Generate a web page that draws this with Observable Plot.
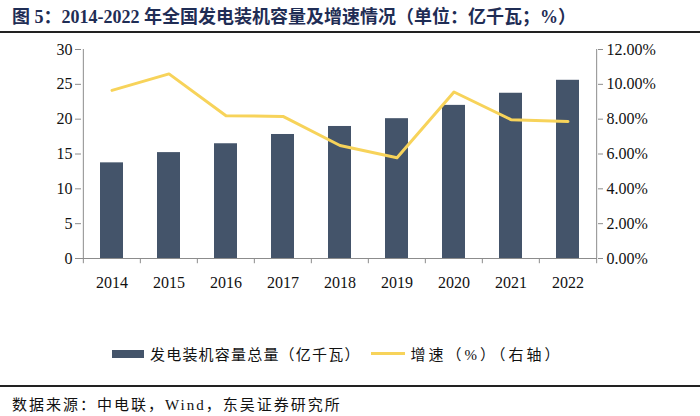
<!DOCTYPE html>
<html><head><meta charset="utf-8">
<script src="https://cdn.jsdelivr.net/npm/d3@7"></script>
<script src="https://cdn.jsdelivr.net/npm/@observablehq/plot@0.6"></script>
<style>
body{margin:0;width:700px;height:416px;position:relative;background:#fff;overflow:hidden;font-family:"Liberation Serif","Noto Sans CJK SC",serif;}
#title{position:absolute;left:0;top:0;width:700px;height:33px;border-bottom:2px solid #222;font-size:18px;font-weight:bold;color:#1f2d55;line-height:34px;padding-left:12px;box-sizing:border-box;white-space:nowrap;letter-spacing:0px;}
#chart{position:absolute;left:0;top:42px;}
#legend{position:absolute;left:112px;top:343px;font-size:15px;color:#111;display:flex;align-items:center;letter-spacing:1.2px;white-space:nowrap;}
#legend .sw{display:inline-block;}
#sep{position:absolute;left:0;top:385px;width:700px;border-top:2px solid #222;}
#source{position:absolute;left:12px;top:393px;font-size:15px;color:#111;letter-spacing:2px;white-space:nowrap;}
</style></head>
<body>
<div id="title">图 5：2014-2022 年全国发电装机容量及增速情况（单位：亿千瓦；%）</div>
<div id="chart"></div>
<div id="legend"></div>
<div id="sep"></div>
<div id="source">数据来源：中电联，Wind，东吴证券研究所</div>
<script>
const years = ["2014","2015","2016","2017","2018","2019","2020","2021","2022"];
const capacity = [13.73, 15.2, 16.47, 17.8, 18.95, 20.07, 21.98, 23.72, 25.58];
const growth = [9.65, 10.6, 8.2, 8.16, 6.49, 5.78, 9.56, 7.97, 7.87];
const leftTicks = [0, 5, 10, 15, 20, 25, 30];
const rightTicks = [0, 2, 4, 6, 8, 10, 12];
const seriesNames = ["发电装机容量总量（亿千瓦）", "增速（%）（右轴）"];

const barColor = "#44546a";
const lineColor = "#f7d35a";
const axisColor = "#8c8c8c";
const ratio = 30 / 12;

const W = 700, mL = 81, mR = 103;
const step = (W - mL - mR) / years.length;

const barData = years.map((y, i) => ({year: y, value: capacity[i]}));
const lineData = years.map((y, i) => ({year: y, value: growth[i] * ratio}));

const chart = Plot.plot({
  width: W,
  height: 256,
  marginLeft: mL,
  marginRight: mR,
  marginTop: 7,
  marginBottom: 40,
  style: {fontFamily: "'Liberation Serif', serif", fontSize: "16px", color: "#111", background: "transparent"},
  x: {domain: years, paddingInner: 0.6, paddingOuter: 0.3},
  y: {domain: [0, 30]},
  marks: [
    Plot.barY(barData, {x: "year", y: "value", fill: barColor}),
    Plot.line(lineData, {x: "year", y: "value", stroke: lineColor, strokeWidth: 3}),
    Plot.axisY({anchor: "left", ticks: leftTicks, tickSize: 6, tickPadding: 3, stroke: axisColor, label: null, tickFormat: d => String(d)}),
    Plot.axisY({anchor: "right", ticks: rightTicks.map(d => d * ratio), tickSize: 5, tickPadding: 4, stroke: axisColor, label: null, tickFormat: d => (d / ratio).toFixed(2) + "%"}),
    Plot.axisX({tickSize: 0, tickPadding: 18, label: null}),
    Plot.ruleY([0], {stroke: axisColor}),
    Plot.ruleX(years, {x: d => d, y1: 0, y2: -0.75, dx: -step / 2, stroke: axisColor}),
    Plot.ruleX([years[years.length - 1]], {x: d => d, y1: 0, y2: -0.75, dx: step / 2, stroke: axisColor}),
    Plot.ruleX([years[0]], {x: d => d, y1: 0, y2: 30, dx: -step / 2, stroke: axisColor}),
    Plot.ruleX([years[years.length - 1]], {x: d => d, y1: 0, y2: 30, dx: step / 2, stroke: axisColor})
  ]
});
document.getElementById("chart").appendChild(chart);

const leg = document.getElementById("legend");
leg.innerHTML =
  `<span class="sw" style="width:32px;height:8px;background:${barColor};margin-right:6px"></span><span>${seriesNames[0]}</span>` +
  `<span class="sw" style="width:34px;height:3px;background:${lineColor};margin:0 6px 0 10px"></span><span style="letter-spacing:3px">${seriesNames[1]}</span>`;
</script>
</body></html>
